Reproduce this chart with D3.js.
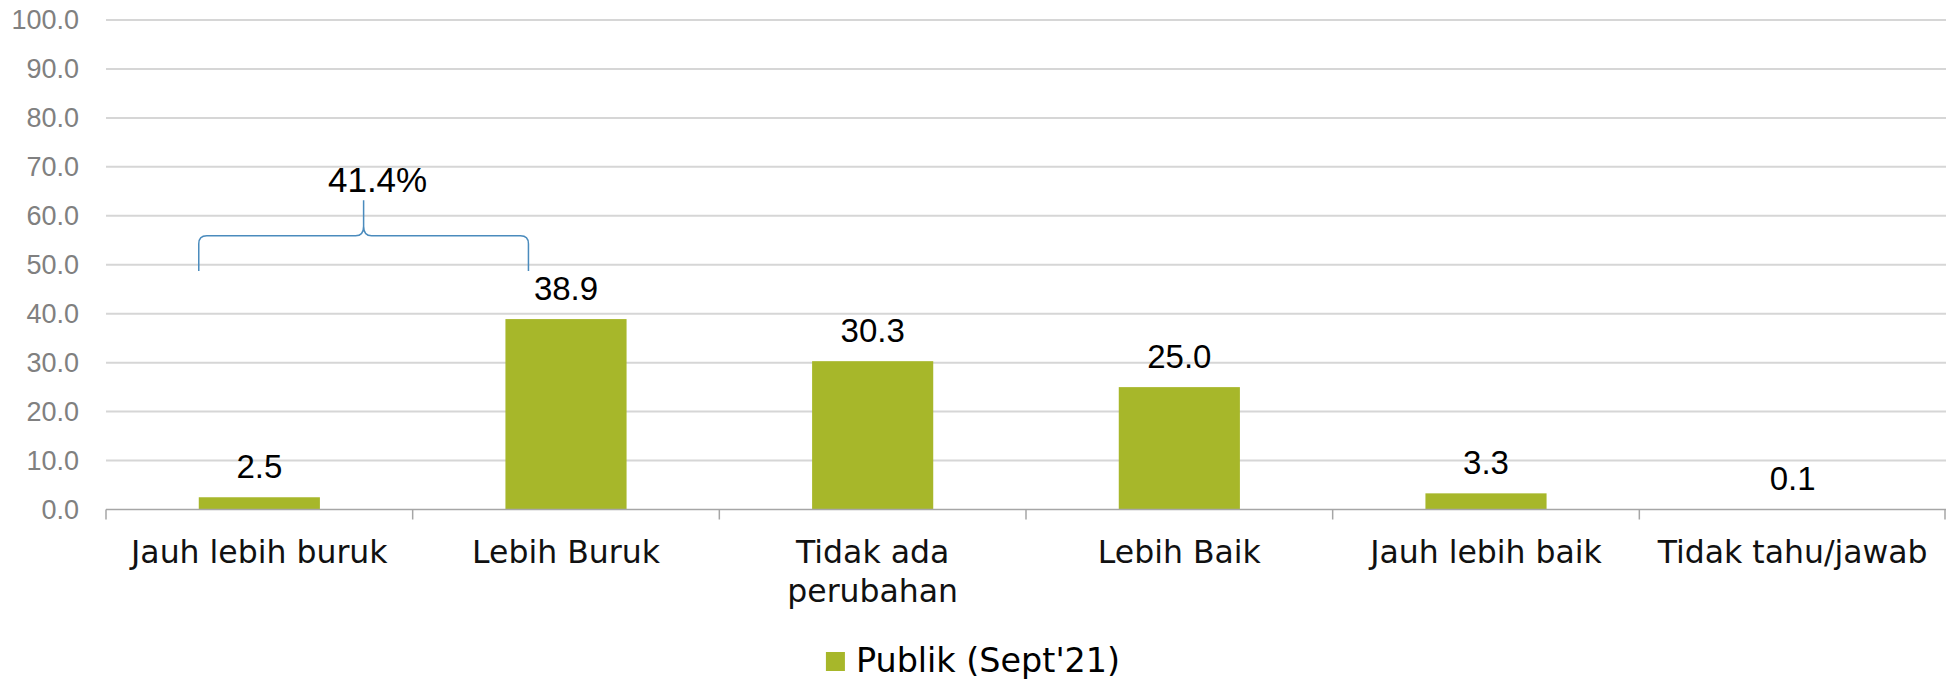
<!DOCTYPE html>
<html>
<head>
<meta charset="utf-8">
<script src="https://cdn.jsdelivr.net/npm/d3@7"></script>
<style>
  html, body { margin: 0; padding: 0; background: #ffffff; }
  svg { display: block; }
</style>
</head>
<body>
<svg id="chart" width="1946" height="683"></svg>
<script>
// Survey answer categories and the share of respondents (%) for each
const categories = ["Jauh lebih buruk", "Lebih Buruk", "Tidak ada perubahan", "Lebih Baik", "Jauh lebih baik", "Tidak tahu/jawab"];
const values = [2.5, 38.9, 30.3, 25.0, 3.3, 0.1];
const seriesName = "Publik (Sept'21)";
const yTicks = [0, 10, 20, 30, 40, 50, 60, 70, 80, 90, 100];
// Categories grouped by the brace annotation (their total is shown above it)
const braceGroup = [0, 1];

const W = 1946, H = 683;
const margin = { top: 20, right: 0, bottom: 173.5, left: 106 };
const barColor = "#a7b72a";
const wordFont = '"Century Gothic", "DejaVu Sans", sans-serif';
const numFont = '"Century Gothic", "Liberation Sans", Arial, sans-serif';

const svg = d3.select("#chart");

const x = d3.scaleBand()
  .domain(categories)
  .range([margin.left, W - margin.right])
  .padding(0);

const y = d3.scaleLinear()
  .domain([0, 100])
  .range([H - margin.bottom, margin.top]);

const barW = x.bandwidth() * 0.395;
const cx = c => x(c) + x.bandwidth() / 2;

// Horizontal gridlines
svg.append("g")
  .selectAll("line")
  .data(yTicks.filter(t => t > 0))
  .join("line")
  .attr("x1", margin.left)
  .attr("x2", W - margin.right)
  .attr("y1", d => y(d))
  .attr("y2", d => y(d))
  .attr("stroke", "#d6d6d6")
  .attr("stroke-width", 2);

// Y axis labels (no axis line)
const yAxis = svg.append("g")
  .attr("transform", `translate(${margin.left},0)`)
  .call(d3.axisLeft(y).tickValues(yTicks).tickFormat(d3.format(".1f")).tickSize(0).tickPadding(27));
yAxis.select(".domain").remove();
yAxis.selectAll("text")
  .attr("font-family", numFont)
  .attr("font-size", 27)
  .attr("fill", "#808080");

// Bars
svg.append("g")
  .selectAll("rect")
  .data(values)
  .join("rect")
  .attr("x", (d, i) => cx(categories[i]) - barW / 2)
  .attr("y", d => y(d))
  .attr("width", barW)
  .attr("height", d => y(0) - y(d))
  .attr("fill", barColor);

// Category axis: baseline plus tick marks at band boundaries
const xAxis = svg.append("g")
  .attr("transform", `translate(0,${y(0)})`);
xAxis.append("line")
  .attr("x1", margin.left)
  .attr("x2", W - margin.right)
  .attr("stroke", "#a6a6a6")
  .attr("stroke-width", 1.5);
const bounds = categories.map(c => x(c)).concat([W - margin.right - 1]);
xAxis.selectAll(".tick")
  .data(bounds)
  .join("line")
  .attr("class", "tick")
  .attr("x1", d => d)
  .attr("x2", d => d)
  .attr("y1", 0)
  .attr("y2", 10)
  .attr("stroke", "#a6a6a6")
  .attr("stroke-width", 1.5);

// Category labels, wrapped to the band width
const catLabels = svg.append("g")
  .selectAll("text")
  .data(categories)
  .join("text")
  .attr("x", d => cx(d))
  .attr("y", y(0) + 53)
  .attr("text-anchor", "middle")
  .attr("font-family", wordFont)
  .attr("font-size", 31.5)
  .attr("fill", "#111111");

catLabels.each(function (d) {
  const text = d3.select(this);
  const words = d.split(" ");
  const maxW = x.bandwidth() - 16;
  let line = [];
  let lineNo = 0;
  let tspan = text.append("tspan").attr("x", cx(d)).attr("dy", 0);
  words.forEach(w => {
    line.push(w);
    tspan.text(line.join(" "));
    if (tspan.node().getComputedTextLength() > maxW && line.length > 1) {
      line.pop();
      tspan.text(line.join(" "));
      line = [w];
      lineNo++;
      tspan = text.append("tspan").attr("x", cx(d)).attr("dy", 39).text(w);
    }
  });
});

// Value labels above the bars
svg.append("g")
  .selectAll("text")
  .data(values)
  .join("text")
  .attr("x", (d, i) => cx(categories[i]))
  .attr("y", d => y(d) - 19)
  .attr("text-anchor", "middle")
  .attr("font-family", numFont)
  .attr("font-size", 33)
  .attr("fill", "#000000")
  .text(d => d3.format(".1f")(d));

// Brace over the grouped categories with their combined share
const braceTotal = d3.sum(braceGroup, i => values[i]);
const bx0 = cx(categories[braceGroup[0]]) - barW / 2;
const bx1 = cx(categories[braceGroup[1]]) - barW / 2 + barW * 0.19;
const bMid = (bx0 + bx1) / 2;
const yBot = y(48.7), yBar = y(55.9), yTop = y(63.2);
const r = 8;
const brace = d3.path();
brace.moveTo(bx0, yBot);
brace.lineTo(bx0, yBar + r);
brace.quadraticCurveTo(bx0, yBar, bx0 + r, yBar);
brace.lineTo(bMid - r, yBar);
brace.quadraticCurveTo(bMid, yBar, bMid, yBar - r * 1.2);
brace.lineTo(bMid, yTop);
brace.moveTo(bMid, yBar - r * 1.2);
brace.quadraticCurveTo(bMid, yBar, bMid + r, yBar);
brace.lineTo(bx1 - r, yBar);
brace.quadraticCurveTo(bx1, yBar, bx1, yBar + r);
brace.lineTo(bx1, yBot);
svg.append("path")
  .attr("d", brace.toString())
  .attr("fill", "none")
  .attr("stroke", "#4a8bbd")
  .attr("stroke-width", 1.5);

svg.append("text")
  .attr("x", bMid + 14)
  .attr("y", yTop - 8.5)
  .attr("text-anchor", "middle")
  .attr("font-family", numFont)
  .attr("font-size", 35)
  .attr("fill", "#000000")
  .text(d3.format(".1f")(braceTotal) + "%");

// Legend, centred below the chart
const legend = svg.append("g");
const legText = legend.append("text")
  .attr("x", 30)
  .attr("y", 0)
  .attr("font-family", wordFont)
  .attr("font-size", 33.4)
  .attr("fill", "#000000")
  .text(seriesName);
legend.append("rect")
  .attr("x", 0)
  .attr("y", -20)
  .attr("width", 19)
  .attr("height", 19)
  .attr("fill", barColor);
const legW = 30 + legText.node().getComputedTextLength();
legend.attr("transform", `translate(${(W - legW) / 2},672)`);
</script>
</body>
</html>
